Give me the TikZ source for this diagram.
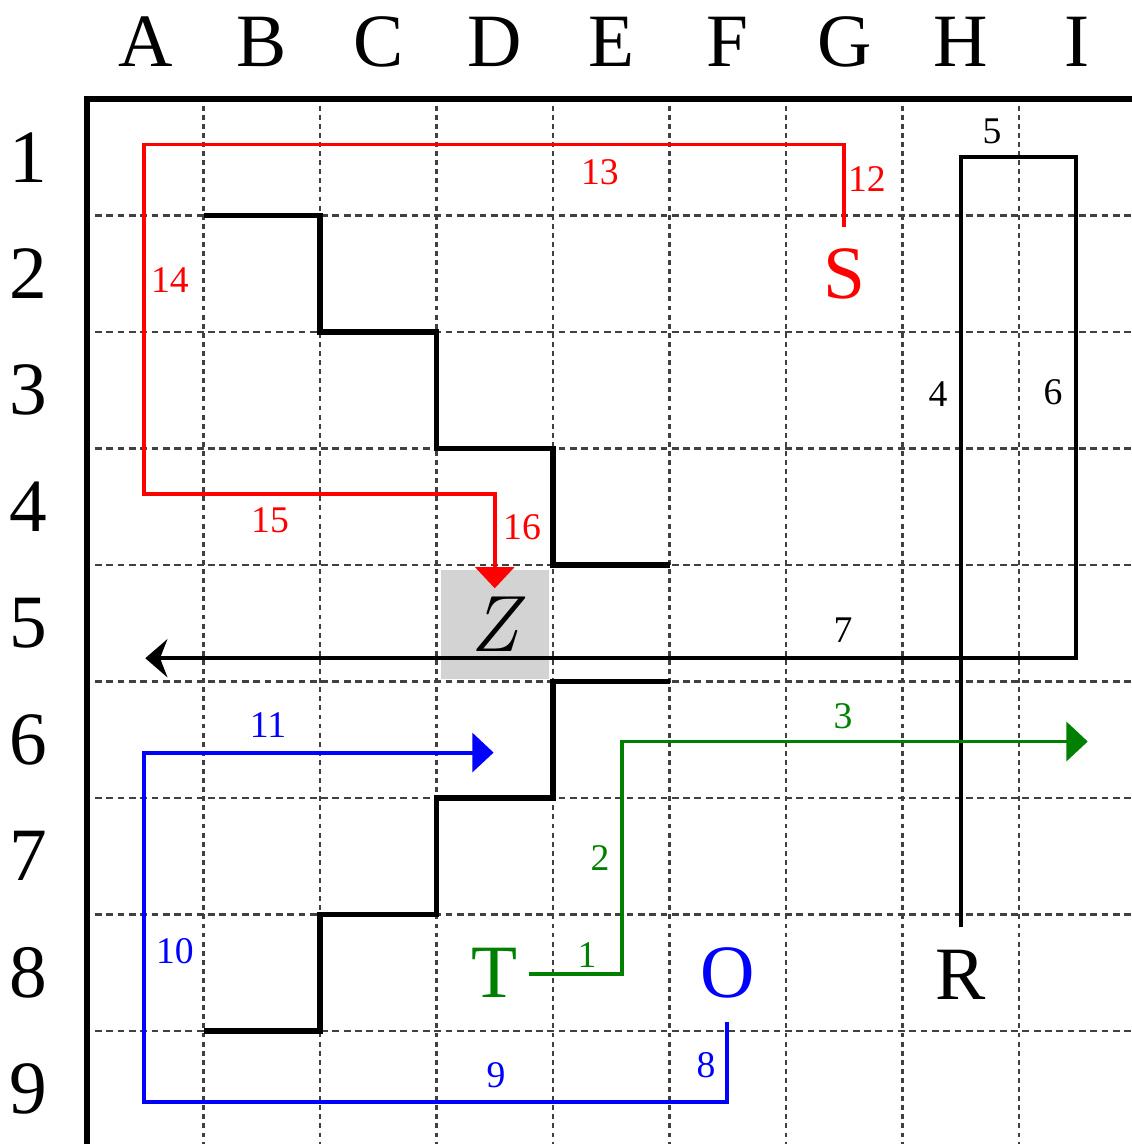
\documentclass[tikz,border=0pt]{standalone}
\usepackage{fontspec}
\newfontfamily\tms{Liberation Serif}
\usetikzlibrary{arrows.meta}
\definecolor{rtred}{RGB}{255,0,0}
\definecolor{rtgreen}{RGB}{0,128,0}
\definecolor{rtblue}{RGB}{0,0,255}
\definecolor{zgray}{RGB}{211,211,211}
\begin{document}
\begin{tikzpicture}[x=1cm,y=1cm,
  big/.style={font=\tms\fontsize{18.4}{20}\selectfont, inner sep=0pt},
  lab/.style={font=\tms\fontsize{9.2}{10}\selectfont, inner sep=0pt},
  zcell/.style={fill=zgray, minimum width=0.93cm, minimum height=0.94cm, inner sep=0pt,
    font=\fontsize{19.5}{21}\selectfont\itshape},
  vgrid/.style={line width=0.65pt, black!75, dash pattern=on 0.042cm off 0.036cm, dash phase=0.021cm},
  hgrid/.style={line width=0.65pt, black!75, dash pattern=on 0.058cm off 0.0391cm, dash phase=0.029cm},
  border/.style={line width=1.6pt, line join=miter},
  wall/.style={line width=1.45pt, line join=miter},
  route/.style={line width=0.95pt, line join=miter},
  blackroute/.style={line width=1pt, line join=miter},
  tri/.style={-{Triangle[width=9.5pt,length=5.2pt]}},
  stl/.style={-{Stealth[width=9.3pt,length=5.4pt,inset=1.8pt]}}
]
\useasboundingbox (-0.747,0.850) rectangle (8.970,-8.970);

% highlighted cell
\node[zcell] (Z) at (3.5,-4.51) {Z};

% grid
\foreach \i in {1,...,8} \draw[vgrid] (\i,0) -- (\i,-9.3);
\foreach \j in {1,...,8} \draw[hgrid] (0,-\j) -- (9.3,-\j);
\draw[border] (0,-9.3) -- (0,0) -- (9.3,0);

% column letters
\foreach \c/\i in {A/1,B/2,C/3,D/4,E/5,F/6,G/7,H/8,I/9}
  \node[big] (col\c) at (\i-0.5,0.489) {\c};
% row numbers
\foreach \r in {1,...,9}
  \node[big] (row\r) at (-0.506,-\r+0.5) {\r};

% letters
\node[big, text=rtred] (S) at (6.5,-1.5) {S};
\node[big, text=rtgreen] (T) at (3.5,-7.5) {T};
\node[big, text=rtblue] (O) at (5.5,-7.5) {O};
\node[big] (R) at (7.5,-7.52) {R};

% walls
\draw[wall] (1,-1) -- (2,-1) -- (2,-2) -- (3,-2) -- (3,-3) -- (4,-3) -- (4,-4) -- (5,-4);
\draw[wall] (5,-5) -- (4,-5) -- (4,-6) -- (3,-6) -- (3,-7) -- (2,-7) -- (2,-8) -- (1,-8);

% red route
\coordinate (r0) at (6.5,-1.1);
\coordinate (r1) at (6.5,-0.39);
\coordinate (r2) at (0.49,-0.39);
\coordinate (r3) at (0.49,-3.39);
\coordinate (r4) at (3.5,-3.39);
\coordinate (r5) at (3.5,-4.2);
\draw[route, rtred, tri] (r0) -- (r1) -- (r2) -- (r3) -- (r4) -- (r5);
\node[lab, text=rtred] (l13) at (4.403,-0.627) {13};
\node[lab, text=rtred] (l12) at (6.695,-0.687) {12};
\node[lab, text=rtred] (l14) at (0.712,-1.554) {14};
\node[lab, text=rtred] (l15) at (1.571,-3.614) {15};
\node[lab, text=rtred] (l16) at (3.734,-3.674) {16};

% black route
\coordinate (b0) at (7.5,-7.11);
\coordinate (b1) at (7.5,-0.495);
\coordinate (b2) at (8.49,-0.495);
\coordinate (b3) at (8.49,-4.80);
\coordinate (b4) at (0.5,-4.80);
\draw[blackroute, stl] (b0) -- (b1) -- (b2) -- (b3) -- (b4);
\node[lab] (l5) at (7.768,-0.275) {5};
\node[lab] (l4) at (7.305,-2.532) {4};
\node[lab] (l6) at (8.292,-2.515) {6};
\node[lab] (l7) at (6.489,-4.558) {7};

% green route
\coordinate (g0) at (3.79,-7.51);
\coordinate (g1) at (4.59,-7.51);
\coordinate (g2) at (4.59,-5.515);
\coordinate (g3) at (8.59,-5.515);
\draw[route, rtgreen, tri] (g0) -- (g1) -- (g2) -- (g3);
\node[lab, text=rtgreen] (l1) at (4.292,-7.348) {1};
\node[lab, text=rtgreen] (l2) at (4.403,-6.515) {2};
\node[lab, text=rtgreen] (l3) at (6.489,-5.296) {3};

% blue route
\coordinate (o0) at (5.49,-7.92);
\coordinate (o1) at (5.49,-8.61);
\coordinate (o2) at (0.49,-8.61);
\coordinate (o3) at (0.49,-5.61);
\coordinate (o4) at (3.49,-5.61);
\draw[route, rtblue, tri] (o0) -- (o1) -- (o2) -- (o3) -- (o4);
\node[lab, text=rtblue] (l8) at (5.313,-8.292) {8};
\node[lab, text=rtblue] (l9) at (3.511,-8.378) {9};
\node[lab, text=rtblue] (l10) at (0.755,-7.313) {10};
\node[lab, text=rtblue] (l11) at (1.554,-5.373) {11};
\end{tikzpicture}
\end{document}
